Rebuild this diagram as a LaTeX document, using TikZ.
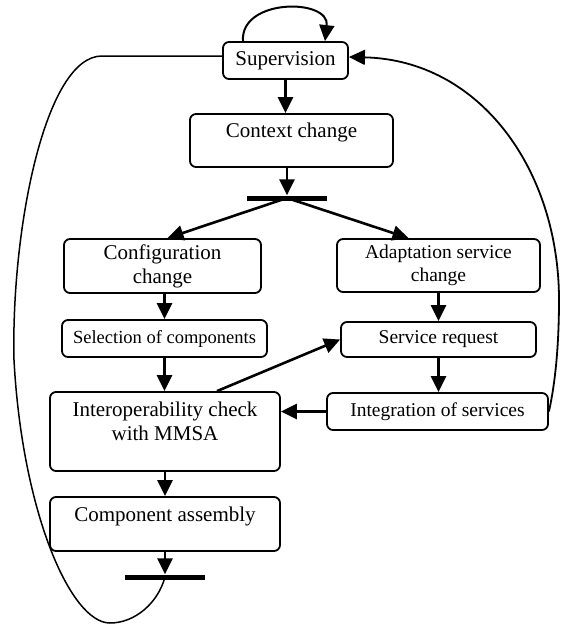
\documentclass[tikz,border=0pt]{standalone}
\usepackage{fontspec}
\setmainfont{Liberation Serif}
\usetikzlibrary{arrows.meta}

\begin{document}
\begin{tikzpicture}[x=1pt, y=-1pt,
  box/.style={draw, line width=1.8pt, rounded corners=6pt, inner sep=0pt, align=center, font=\fontsize{21}{24}\selectfont},
  small/.style={font=\fontsize{19.5}{23}\selectfont},
  bar/.style={fill, minimum width=80pt, minimum height=5pt, inner sep=0pt},
  arr/.style={line width=2.6pt, -{Triangle[length=16pt,width=15pt]}},
  loop/.style={line width=1.5pt}]
\useasboundingbox (0,0) rectangle (560,624);
\node[box, minimum width=125pt, minimum height=37pt] (sup) at (285.5,60.5){Supervision};
\node[box, minimum width=203pt, minimum height=53pt] (ctx) at (291.5,140.5){Context change\\[-4pt]\mbox{}};
\node[bar] (bar0) at (287,198){};
\draw[arr](sup.south) -- (sup.south |- ctx.north);
\draw[arr](bar0 |- ctx.south) -- (bar0.north);
\node[box, minimum width=197pt, minimum height=54pt] (cfg) at (162.5,266){Configuration\\change};
\node[box, small, minimum width=203pt, minimum height=53pt] (adp) at (438.5,265.5){Adaptation service\\change};
\draw[arr](bar0.center) -- ([xshift=5pt]cfg.north);
\draw[arr](bar0.center) -- ([xshift=-30pt]adp.north);
\node[box, font=\fontsize{18.5}{22}\selectfont, minimum width=205pt, minimum height=37pt] (sel) at (164.5,338.5){Selection of components};
\node[box, small, minimum width=195pt, minimum height=35pt] (srv) at (438.5,339.5){Service request};
\draw[arr](sel |- cfg.south) -- (sel.north);
\draw[arr](adp.south) -- (srv.north);
\node[box, minimum width=230pt, minimum height=79pt] (iop) at (165,431.5){Interoperability check\\with MMSA\\[-4pt]\mbox{}};
\node[box, small, minimum width=221pt, minimum height=37pt] (itg) at (437.5,411.5){Integration of services};
\draw[arr](sel.south) -- (sel.south |- iop.north);
\draw[arr](srv.south) -- (srv.south |- itg.north);
\draw[arr](itg.west) -- (itg.west -| iop.east);
\draw[arr]([xshift=52pt]iop.north) -- (srv.west);
\node[box, minimum width=230pt, minimum height=54pt] (cmp) at (165,524){Component assembly\\[-4pt]\mbox{}};
\node[bar] (bar1) at (165,577){};
\draw[arr](iop) -- (cmp);
\draw[arr](cmp) -- (bar1.north);

\draw[arr, line width=2pt]([xshift=-42.5pt]sup.north) .. controls (240,-2) and (330,-2) .. ([xshift=39.5pt]sup.north);
\draw[loop](bar1.center) .. controls (158,603) and (135,623) .. (110,623) .. controls (70,623) and (22,510) .. (14,360) .. controls (11,230) and (45,56) .. (102,56) -- ([yshift=4.5pt]sup.west);
\draw[loop, line width=1.8pt, -{Triangle[length=16pt,width=15pt]}](itg.east) .. controls (556,380) and (559,340) .. (559,300) .. controls (559,170) and (480,60) .. ([yshift=3.5pt]sup.east);

\end{tikzpicture}
\end{document}
